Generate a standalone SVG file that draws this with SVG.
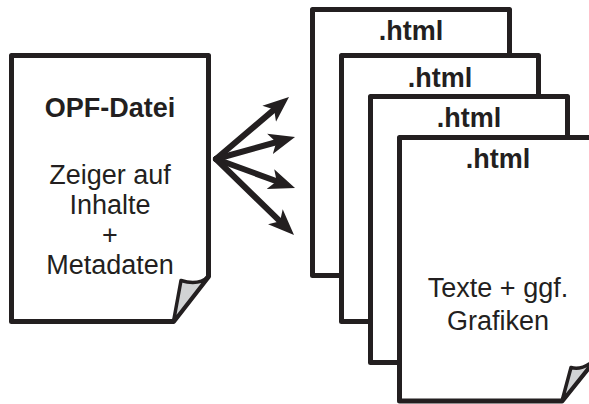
<svg xmlns="http://www.w3.org/2000/svg" width="589" height="404" viewBox="0 0 589 404">
<style>
.page{fill:#fff;stroke:#231f20;stroke-width:5;stroke-linejoin:round}
.curl{fill:#d1d3d4;stroke:#231f20;stroke-width:3.5;stroke-linejoin:round}
.t{font-family:"Liberation Sans",Arial,sans-serif;font-size:27px;fill:#231f20;text-anchor:middle}
.b{font-weight:bold}
.arr{stroke:#231f20;stroke-width:6;fill:none;stroke-linecap:round}
</style>
<defs>
<marker id="ah" viewBox="0 -11 26 22" markerWidth="26" markerHeight="22" refX="13" refY="0" orient="auto" markerUnits="userSpaceOnUse">
<path d="M26,0 L0,-10.5 L6.5,0 L0,10.5 Z" fill="#231f20"/>
</marker>
</defs>
<rect width="589" height="404" fill="#fff"/>
<g id="opf">
<path class="page" d="M11.5,55.5 H208.5 V276.5 L173.5,321.5 H11.5 Z"/>
<path class="curl" d="M208.5,276.5 Q198.5,286 181,280.5 L173.5,321.5 Z"/>
<text class="t b" x="110" y="117">OPF-Datei</text>
<text class="t" x="110" y="183.5">Zeiger auf</text>
<text class="t" x="110" y="213.5">Inhalte</text>
<text class="t" x="110" y="243.5">+</text>
<text class="t" x="110" y="273.5">Metadaten</text>
</g>
<g id="html1">
<rect class="page" x="312.5" y="9.5" width="197" height="266"/>
<text class="t b" x="411" y="40">.html</text>
</g>
<g id="html2">
<rect class="page" x="341.5" y="55.5" width="197" height="266"/>
<text class="t b" x="440" y="86.5">.html</text>
</g>
<g id="html3">
<rect class="page" x="370.5" y="96.5" width="197" height="266"/>
<text class="t b" x="469" y="127">.html</text>
</g>
<g id="html4">
<path class="page" d="M399.5,137.5 H596.5 V358 L562,401 H399.5 Z"/>
<path class="curl" d="M596.5,358 Q583,371 571,367.5 L562,401 Z"/>
<text class="t b" x="498" y="168">.html</text>
<text class="t" x="498" y="297">Texte + ggf.</text>
<text class="t" x="498" y="329.5">Grafiken</text>
</g>
<g id="connectors">
<line class="arr" x1="216" y1="159" x2="279.1" y2="105.4" marker-end="url(#ah)"/>
<line class="arr" x1="216" y1="159" x2="282.5" y2="140.5" marker-end="url(#ah)"/>
<line class="arr" x1="216" y1="159" x2="282.8" y2="183.5" marker-end="url(#ah)"/>
<line class="arr" x1="216" y1="159" x2="284.7" y2="225.9" marker-end="url(#ah)"/>
</g>
</svg>
